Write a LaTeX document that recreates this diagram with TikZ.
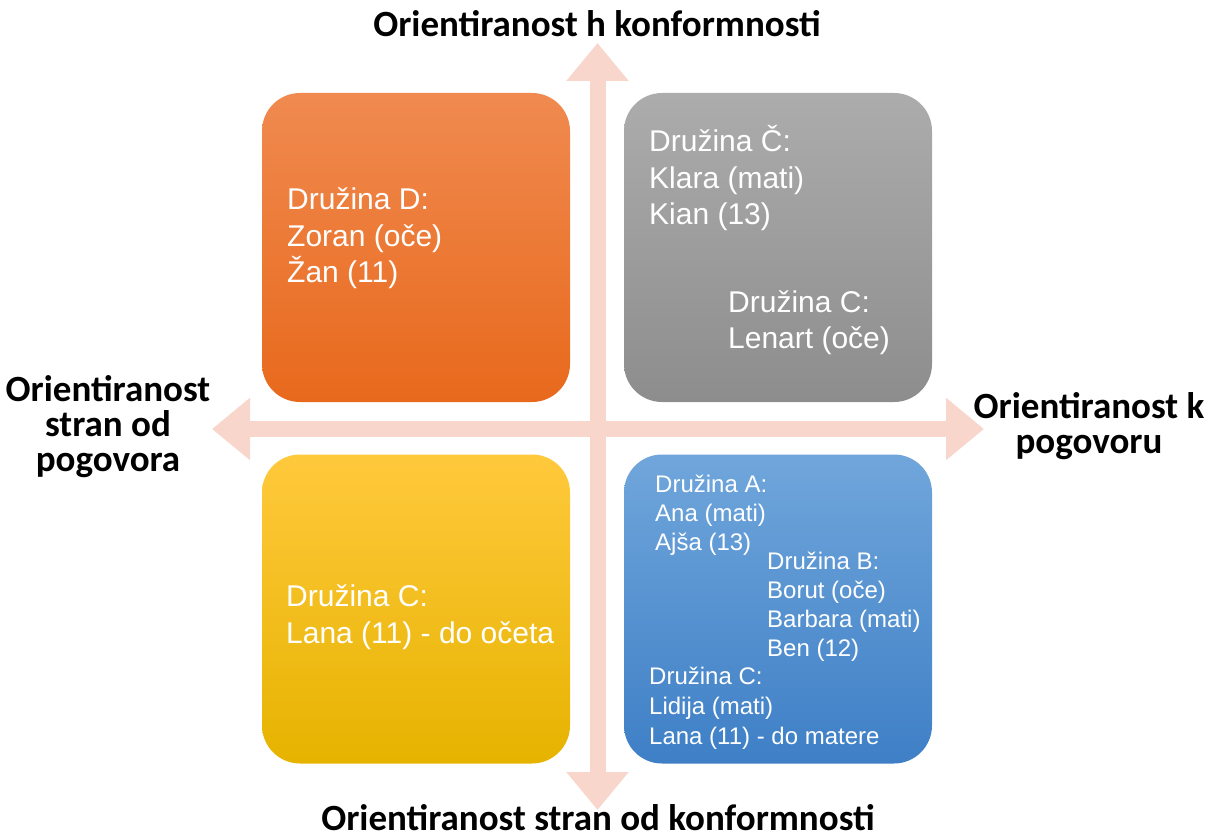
\documentclass[tikz,border=0pt]{standalone}
\usepackage{fontspec}
\setmainfont{Liberation Sans}
\newfontfamily\labelfont{Carlito}
\usepackage{xcolor}
\usetikzlibrary{arrows.meta}
\usetikzlibrary{positioning}

\definecolor{arrowpink}{HTML}{F8D6CC}
\definecolor{orangetop}{HTML}{F08A50}
\definecolor{orangebot}{HTML}{E8691C}
\definecolor{graytop}{HTML}{ACACAC}
\definecolor{graybot}{HTML}{8D8D8D}
\definecolor{yellowtop}{HTML}{FFC93C}
\definecolor{yellowbot}{HTML}{E6B300}
\definecolor{bluetop}{HTML}{70A6DB}
\definecolor{bluebot}{HTML}{3E7FC6}

\tikzset{
  quadrant/.style={rectangle, rounded corners=38pt, minimum width=308pt, minimum height=309pt, inner sep=0pt},
  boxtext/.style={text=white, inner sep=0pt, anchor=base west, font=\fontsize{30}{36}\selectfont},
  smalltext/.style={boxtext, font=\fontsize{24}{30}\selectfont},
  axislabel/.style={inner sep=0pt, anchor=base, align=center, font=\labelfont\bfseries\fontsize{37}{35}\selectfont},
  axisarrow/.style={draw=arrowpink, line width=16pt, {Triangle[width=60pt,length=38pt]}-{Triangle[width=60pt,length=38pt]}}
}

\begin{document}
\begin{tikzpicture}[x=1pt,y=-1pt]
			\useasboundingbox (0,0) rectangle (1211,840);
			
			% axes
			\coordinate (N) at (597.5,43);
			\coordinate (S) at (597.5,810);
			\coordinate (W) at (212,429);
			\coordinate (E) at (984,429);
			\draw[axisarrow] (N) -- (S);
			\draw[axisarrow] (W) -- (E);
			
			% quadrants
			\node[quadrant, top color=orangetop, bottom color=orangebot] (qD) at (416,247.5) {};
			\node[quadrant, top color=graytop, bottom color=graybot] (qCh) at (778,247.5) {};
			\node[quadrant, top color=yellowtop, bottom color=yellowbot] (qCy) at (416,609) {};
			\node[quadrant, top color=bluetop, bottom color=bluebot] (qA) at (778,609) {};
			
			% texts in the quadrants
			\foreach \t [count=\i from 0] in {Družina D:, Zoran (oče), Žan (11)}
				\node[boxtext] (d\i) at (287,210+36*\i) {\t};
			\foreach \t [count=\i from 0] in {Družina Č:, Klara (mati), Kian (13)}
				\node[boxtext] (ch\i) at (649,152+36.5*\i) {\t};
			\foreach \t [count=\i from 0] in {Družina C:, Lenart (oče)}
				\node[boxtext] (cg\i) at (728,312+36*\i) {\t};
			\foreach \t [count=\i from 0] in {Družina C:, Lana (11) - do očeta}
				\node[boxtext] (cy\i) at (286,606+37*\i) {\t};
			\foreach \t [count=\i from 0] in {Družina A:, Ana (mati), Ajša (13)}
				\node[smalltext] (a\i) at (655,492+29*\i) {\t};
			\foreach \t [count=\i from 0] in {Družina B:, Borut (oče), Barbara (mati), Ben (12)}
				\node[smalltext] (b\i) at (767,569+29*\i) {\t};
			\foreach \t [count=\i from 0] in {Družina C:, Lidija (mati), Lana (11) - do matere}
				\node[smalltext] (cb\i) at (649,684+30*\i) {\t};
			
			% axis labels
			\node[axislabel] (top) at (597,37) {Orientiranost h konformnosti};
			\node[axislabel] (bottom) at (598,830) {Orientiranost stran od konformnosti};
			\node[axislabel, anchor=north] (left) at (108,375) {Orientiranost\\stran od\\pogovora};
			\node[axislabel, anchor=north] (right) at (1089,392) {Orientiranost k\\pogovoru};
			
		\end{tikzpicture}
\end{document}
